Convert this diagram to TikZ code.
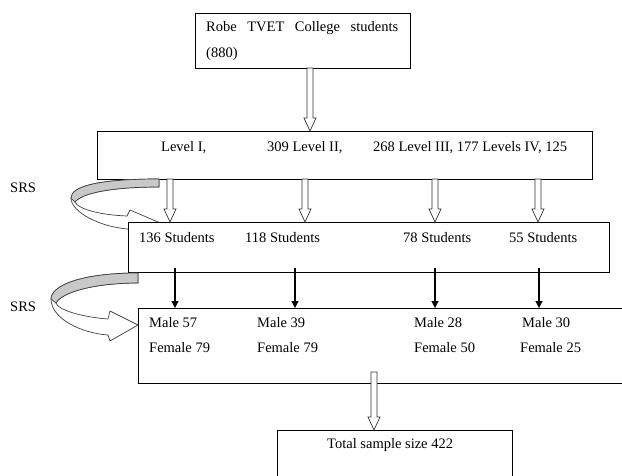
\documentclass[tikz,border=0pt]{standalone}
\usepackage{fontspec}
\setmainfont{Liberation Serif}
\usetikzlibrary{arrows.meta,calc}

% block arrow pointing down, from #1 to #2 (same x)
\newcommand{\hollowdown}[2]{%
  \draw[blockarrow] let \p1=#1, \p2=#2 in
    (\x1-3pt,\y1) -- (\x1-3pt,\y2+13pt) -- (\x1-6pt,\y2+13pt) -- (\x1,\y2)
    -- (\x1+6pt,\y2+13pt) -- (\x1+3pt,\y2+13pt) -- (\x1+3pt,\y1) -- cycle;}

\begin{document}
\begin{tikzpicture}[x=1pt,y=-1pt,
  font=\fontsize{14.5}{17}\selectfont,
  box/.style={draw,fill=white,line width=0.9pt,anchor=north west,inner sep=0pt,outer sep=0pt},
  txt/.style={anchor=base west,inner sep=0pt},
  blockarrow/.style={draw=black!80,fill=white,line width=0.7pt},
  thinarrow/.style={line width=1.1pt,-{Triangle[length=7pt,width=7pt]}},
  srsfront/.style={draw=black!75,fill=white,line width=0.7pt},
  srsback/.style={draw=black!75,fill=srsGrey,line width=0.7pt}]
\definecolor{srsGrey}{HTML}{C8C8C8}
\useasboundingbox (0,0) rectangle (622,475);
\clip (0,0) rectangle (622,475);

\node[box,minimum width=215pt,minimum height=55pt] (top) at (195,13) {};
\node[box,minimum width=495pt,minimum height=48pt] (levels) at (97,131) {};

% first SRS curl
\filldraw[srsfront] (159,179) .. controls (100,179) and (71,186) .. (71,198)
  .. controls (71,212) and (100,227) .. (128,229) -- (130,235) -- (158,222) -- (130,210) -- (127,216)
  .. controls (100,215) and (78,209) .. (75,202)
  .. controls (82,193) and (112,187) .. (159,187) -- cycle;
\filldraw[srsback] (159,179) .. controls (100,179) and (71,186) .. (71,198) -- (75,202)
  .. controls (82,193) and (112,187) .. (159,187) -- cycle;

\node[box,minimum width=481pt,minimum height=50pt] (stud) at (128,222) {};

% second SRS curl
\filldraw[srsfront] (138,273) .. controls (80,273) and (51,286) .. (51,299)
  .. controls (51,318) and (80,333) .. (108,335) -- (110,341) -- (138,325) -- (110,311) -- (108,319)
  .. controls (82,317) and (58,310) .. (56,303)
  .. controls (62,292) and (95,283) .. (138,283) -- cycle;
\filldraw[srsback] (138,273) .. controls (80,273) and (51,286) .. (51,299) -- (56,303)
  .. controls (62,292) and (95,283) .. (138,283) -- cycle;

\node[box,minimum width=520pt,minimum height=75pt] (sex) at (138,308) {};
\node[box,minimum width=235pt,minimum height=70pt] (total) at (277,430) {};

% texts
\node[txt] (robe) at (206,31) {\makebox[192pt][s]{Robe TVET College students}};
\node[txt] (robeN) at (206,57) {(880)};
\node[txt] (lvI) at (161,151) {Level I,};
\node[txt] (lvII) at (267,151) {309 Level II,};
\node[txt] (lvRest) at (373,151) {268 Level III, 177 Levels IV, 125};
\foreach \x/\k/\lab in {139/s1/136, 245/s2/118, 403/s3/78, 509/s4/55}
  \node[txt] (\k) at (\x,242) {\lab{} Students};
\foreach \x/\k/\lab in {149/m1/57, 257/m2/39, 414/m3/28, 522/m4/30}
  \node[txt] (\k) at (\x,327) {Male \lab};
\foreach \x/\k/\lab in {149/f1/79, 257/f2/79, 414/f3/50, 520/f4/25}
  \node[txt] (\k) at (\x,352) {Female \lab};
\node[txt] (totTxt) at (327,448) {Total sample size 422};
\node[txt] (srsA) at (10,192) {SRS};
\node[txt] (srsB) at (10,311) {SRS};

% connectors
\coordinate (a0) at (310,0);
\foreach \x/\k in {170/1, 305/2, 435/3, 538/4} \coordinate (h\k) at (\x,0);
\foreach \x/\k in {175/1, 295/2, 435/3, 539/4} \coordinate (v\k) at (\x,0);
\coordinate (a9) at (374,0);

\hollowdown{(top.south -| a0)}{(levels.north -| a0)}
\foreach \k in {1,...,4}
  \hollowdown{(levels.south -| h\k)}{(stud.north -| h\k)};
\foreach \k in {1,...,4}
  \draw[thinarrow,shorten <=-4pt] (stud.south -| v\k) -- (sex.north -| v\k);
\hollowdown{($(sex.south -| a9)+(0,-11)$)}{(total.north -| a9)}
\end{tikzpicture}
\end{document}
